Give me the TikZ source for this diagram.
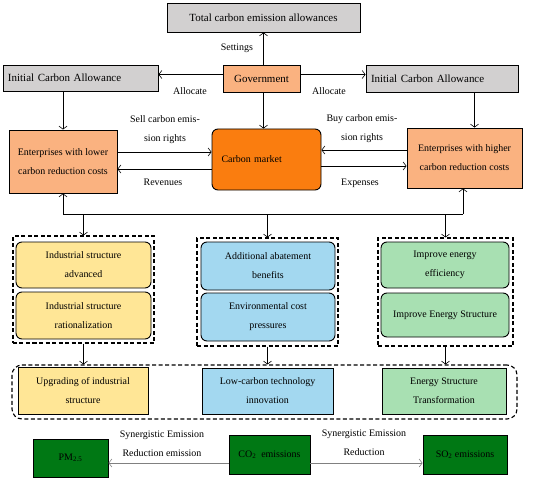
\documentclass[tikz,border=0pt]{standalone}
\usepackage{fontspec}
\setmainfont{Liberation Serif}
\usepackage{xcolor}
\usetikzlibrary{arrows.meta,positioning,calc}

\definecolor{boxgray}{RGB}{210,208,208}
\definecolor{lightorange}{RGB}{250,178,128}
\definecolor{marketorange}{RGB}{250,125,15}
\definecolor{softyellow}{RGB}{255,230,150}
\definecolor{softblue}{RGB}{163,216,240}
\definecolor{softgreen}{RGB}{168,224,178}
\definecolor{deepgreen}{RGB}{0,120,20}

\begin{document}
\begin{tikzpicture}[x=1bp, y=-1bp,
    box/.style={draw=black, line width=0.9pt, inner sep=0pt, align=center, font=\fontsize{10}{19}\selectfont},
    roundbox/.style={box, rounded corners=6bp},
    topbox/.style={box, font=\fontsize{11}{13}\selectfont},
    group/.style={draw=black, line width=1.1pt, dash pattern=on 4bp off 2.5bp, inner sep=0pt},
    arr/.style={line width=0.6pt, -{Straight Barb[length=3bp,width=8bp]}},
    lbl/.style={font=\fontsize{10}{19}\selectfont, align=center, inner sep=0pt}]
  \useasboundingbox (0,0) rectangle (550,482);

  % Top row
  \node[topbox, fill=boxgray, minimum width=193bp, minimum height=29bp] (total) at (263.5,17.5) {Total carbon emission allowances};
  \node[topbox, fill=lightorange, minimum width=77bp, minimum height=27bp] (gov) at (261.5,78.5) {Government};
  \node[topbox, fill=boxgray, minimum width=155bp, minimum height=26bp, text width=145bp, align=left] (ialeft) at (80.5,78) {Initial Carbon Allowance};
  \node[topbox, fill=boxgray, minimum width=152bp, minimum height=27bp, text width=142bp, align=left] (iaright) at (442,78.5) {Initial Carbon Allowance};

  % Market row
  \node[box, fill=lightorange, minimum width=108bp, minimum height=63bp] (entlow) at (63,161.5) {Enterprises with lower\\carbon reduction costs};
  \node[roundbox, fill=marketorange, minimum width=109bp, minimum height=61bp, text width=90bp, align=left] (market) at (266.5,159.5) {Carbon market};
  \node[box, fill=lightorange, minimum width=115bp, minimum height=60bp] (enthigh) at (464.5,158) {Enterprises with higher\\carbon reduction costs};

  % Mechanism groups
  \node[group, minimum width=141bp, minimum height=107bp] (grpA) at (83.5,289.5) {};
  \node[group, minimum width=141bp, minimum height=108bp] (grpB) at (267.5,292) {};
  \node[group, minimum width=135bp, minimum height=108bp] (grpC) at (445.5,292) {};
  \node[roundbox, fill=softyellow, minimum width=135bp, minimum height=46bp] (indadv) at (83.5,265) {Industrial structure\\advanced};
  \node[roundbox, fill=softyellow, minimum width=135bp, minimum height=47bp] (indrat) at (83.5,315.5) {Industrial structure\\rationalization};
  \node[roundbox, fill=softblue, minimum width=134bp, minimum height=48bp] (abate) at (268,266) {Additional abatement\\benefits};
  \node[roundbox, fill=softblue, minimum width=134bp, minimum height=48bp] (envcost) at (268,317) {Environmental cost\\pressures};
  \node[roundbox, fill=softgreen, minimum width=128bp, minimum height=46bp] (effic) at (445,265) {Improve energy\\efficiency};
  \node[roundbox, fill=softgreen, minimum width=128bp, minimum height=44bp] (enstruct) at (445,315) {Improve Energy Structure};

  % Outcomes
  \node[group, rounded corners=10bp, minimum width=505bp, minimum height=54bp] (outcomes) at (264.5,392) {};
  \node[box, fill=softyellow, minimum width=130bp, minimum height=47bp] (upgrade) at (83,390.5) {Upgrading of industrial\\structure};
  \node[box, fill=softblue, minimum width=131bp, minimum height=46bp] (lowtech) at (267.5,391) {Low-carbon technology\\innovation};
  \node[box, fill=softgreen, minimum width=124bp, minimum height=46bp] (transform) at (444,391) {Energy Structure\\Transformation};

  % Emissions
  \node[box, fill=deepgreen, minimum width=75bp, minimum height=38bp] (pm) at (70.5,458) {PM\textsubscript{2.5}};
  \node[box, fill=deepgreen, minimum width=81bp, minimum height=39bp] (co2) at (269.5,454.5) {CO\textsubscript{2}\ \ emissions};
  \node[box, fill=deepgreen, minimum width=84bp, minimum height=39bp] (so2) at (465,454.5) {SO\textsubscript{2} emissions};

  % Government links
  \draw[arr] (gov.north -| total.south) -- (total.south);
  \draw[arr] ([yshift=4bp]gov.west) -- ([yshift=4bp]gov.west -| ialeft.east);
  \draw[arr] ([yshift=4bp]gov.east) -- ([yshift=4bp]gov.east -| iaright.west);
  \draw[arr] (ialeft.south -| entlow.north) -- (entlow.north);
  \draw[arr] (gov.south -| total.south) -- (total.south |- market.north);
  \coordinate (hitop) at ([xshift=10bp]enthigh.north);
  \draw[arr] (iaright.south -| hitop) -- (hitop);
  \node[lbl] (settings) at (237,48) {Settings};
  \node[lbl] (alloc1) at (190,91) {Allocate};
  \node[lbl] (alloc2) at (329,91) {Allocate};

  % Trading
  \draw[arr] ([yshift=9.5bp]entlow.east) -- ([yshift=9.5bp]entlow.east -| market.west);
  \draw[arr] ([yshift=-7.5bp]entlow.east -| market.west) -- ([yshift=-7.5bp]entlow.east);
  \draw[arr] ([yshift=8bp]enthigh.west) -- ([yshift=8bp]enthigh.west -| market.east);
  \draw[arr] ([yshift=-8bp]enthigh.west -| market.east) -- ([yshift=-8bp]enthigh.west);
  \node[lbl] (sell) at (165,130) {Sell carbon emis-\\sion rights};
  \node[lbl] (revenues) at (163,182) {Revenues};
  \node[lbl] (buy) at (362,129) {Buy carbon emis-\\sion rights};
  \node[lbl] (expenses) at (360,183) {Expenses};

  % Feedback bus
  \coordinate (bus) at (0,214);
  \coordinate (hibot) at ([xshift=-1.5bp]enthigh.south);
  \draw[line width=0.6pt] (bus -| entlow.south) -- (bus -| hibot);
  \draw[arr] (bus -| entlow.south) -- (entlow.south);
  \draw[arr] (bus -| hibot) -- (hibot);
  \draw[arr] (bus -| grpA.north) -- (grpA.north);
  \draw[arr] (bus -| grpB.north) -- (grpB.north);
  \draw[arr] (bus -| grpC.north) -- (grpC.north);

  % Groups to outcomes
  \draw[arr] (grpA.south) -- (grpA.south |- outcomes.north);
  \draw[arr] (grpB.south) -- (grpB.south |- outcomes.north);
  \draw[arr] (grpC.south) -- (grpC.south |- outcomes.north);

  % Synergy
  \draw[arr, gray] ([yshift=-8.5bp]co2.west) -- ([yshift=-8.5bp]co2.west -| pm.east);
  \draw[arr, gray] ([yshift=-8.5bp]co2.east) -- ([yshift=-8.5bp]co2.east -| so2.west);
  \node[lbl] (syn1) at (162,444) {Synergistic Emission\\Reduction emission};
  \node[lbl] (syn2) at (364,443) {Synergistic Emission\\Reduction};
\end{tikzpicture}
\end{document}
